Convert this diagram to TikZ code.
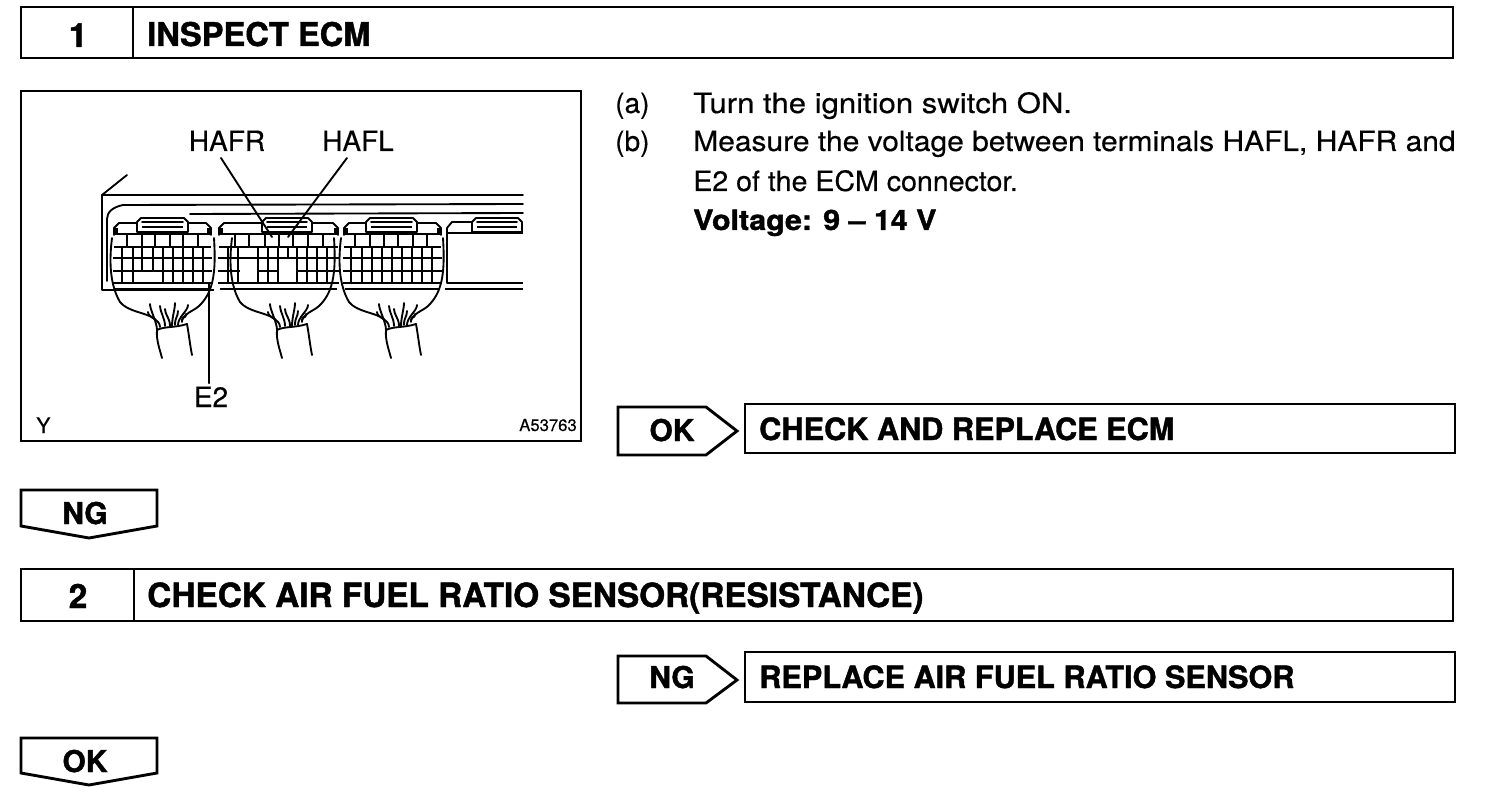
\documentclass[tikz,border=0pt]{standalone}
\usepackage{fontspec}
\usepackage{graphicx}
\setmainfont[UprightFeatures={FakeBold=0.35},BoldFeatures={FakeBold=1.3}]{TeX Gyre Heros}
\newcommand{\pxfont}[1]{\fontsize{#1}{#1}\selectfont}
\newcommand{\sx}[2]{\scalebox{#1}[1]{#2}}
\tikzset{
  frameline/.style={draw=black,line width=2.15pt,line join=miter},
  head/.style={font=\bfseries\pxfont{24.5},anchor=base west,inner sep=0pt},
  sub/.style={font=\bfseries\pxfont{25},anchor=base west,inner sep=0pt},
  res/.style={font=\bfseries\pxfont{23},anchor=base west,inner sep=0pt},
  num/.style={font=\bfseries\pxfont{25},anchor=base,inner sep=0pt},
  tag/.style={font=\bfseries\pxfont{22.5},anchor=base,inner sep=0pt},
  body/.style={font=\pxfont{21},anchor=base west,inner sep=0pt},
  bodyb/.style={font=\bfseries\pxfont{21},anchor=base west,inner sep=0pt},
  lab/.style={font=\pxfont{21},anchor=base,inner sep=0pt},
  small/.style={font=\pxfont{12.5},anchor=base east,inner sep=0pt},
  fine/.style={line width=1pt,line cap=round,line join=round},
  mid/.style={line width=1.4pt,line cap=round,line join=round},
  heavy/.style={line width=2.1pt,line cap=butt},
}
\begin{document}
\begin{tikzpicture}[x=0.75pt,y=-0.75pt]
\useasboundingbox (0,0) rectangle (1504,806);
% headers
\draw[frameline] (21,7) rectangle (1453,58);
\draw[frameline] (133,7) -- (133,58);
\node[num] (n1) at (78,47) {1};
\node[head] (t1) at (147,46) {INSPECT ECM};
\draw[frameline] (21,569) rectangle (1453,621);
\draw[frameline] (134,569) -- (134,621);
\node[num] (n2) at (78,608) {2};
\node[sub] (t2) at (147,607) {CHECK AIR FUEL RATIO SENSOR(RESISTANCE)};
% picture frame
\draw[frameline] (21,91) rectangle (581,441);
% body text
\node[body] (a) at (615,113) {(a)};
\node[body] (a1) at (693,113) {\sx{1.11}{Turn the ignition switch ON.}};
\node[body] (b) at (615,151) {(b)};
\node[body] (b1) at (693,151) {\sx{1.07}{Measure the voltage between terminals HAFL, HAFR and}};
\node[body] (b2) at (693,191) {\sx{1.02}{E2 of the ECM connector.}};
\node[bodyb] (b3) at (693,230) {\sx{1.085}{Voltage: 9 -- 14 V}};
% result tags
\draw[frameline] (618,407) -- (706,407) -- (737,431) -- (706,455) -- (618,455) -- cycle;
\node[tag] (ok1) at (672,441) {OK};
\draw[frameline] (745,404) rectangle (1455,453);
\node[res] (r1) at (759,440) {CHECK AND REPLACE ECM};
\draw[frameline] (618,656) -- (706,656) -- (737,680) -- (706,703) -- (618,703) -- cycle;
\node[tag] (ng2) at (672,688) {NG};
\draw[frameline] (745,652) rectangle (1455,702);
\node[res] (r2) at (759,688) {REPLACE AIR FUEL RATIO SENSOR};
\draw[frameline] (21,490) -- (157,490) -- (157,526) -- (89,538) -- (21,526) -- cycle;
\node[tag] (ng1) at (85,524) {NG};
\draw[frameline] (21,738) -- (157,738) -- (157,773) -- (89,785) -- (21,773) -- cycle;
\node[tag] (ok2) at (85,772) {OK};
% ECM housing
\draw[mid] (127,175) -- (102,195) -- (102,290);
\draw[mid] (102,195) -- (523,195);
\draw[mid] (523,204) -- (123,205) .. controls (113,207) and (107,212) .. (107,219) -- (107,281);
\draw[mid] (190,214) -- (523,213);
\draw[heavy] (102,290) -- (214,290);
% connector bodies
\foreach \xa/\xb in {112/213, 217/340, 342/443}{
  \draw[mid] (\xa+2,235) -- (\xa+2,228) -- (\xa+7,223) -- (\xb-7,223) -- (\xb-2,228) -- (\xb-2,235);
  \fill (\xa+1,228) rectangle (\xa+6,235);
  \fill (\xb-6,228) rectangle (\xb-1,235);
  \draw[heavy] (\xa+2,234) -- (\xb-2,234);
  \draw[heavy] (\xa+2,247) -- (\xb-2,247);
  \draw[heavy] (\xa+1,258) -- (\xb-1,258);
  \draw[heavy] (\xa+1,271) -- (\xb-1,271);
  \draw[heavy] (\xa+1,283) -- (\xb-1,283);
  \draw[heavy] (\xa+3,289) -- (\xb-3,289);
}
% latches
\foreach \xa/\xb in {137/188, 262/312, 366/417, 472/522}{
  \draw[mid,fill=white] (\xa,232) -- (\xa,222) -- (\xa+4,218) -- (\xb-4,218) -- (\xb,222) -- (\xb,232) -- cycle;
  \draw[heavy] (\xa+5,227) -- (\xb-5,227);
  \draw[mid] (\xa+5,222) -- (\xb-5,222);
}
% cell dividers, top row
\foreach \x in {127,142,155,170,183,198, 235,249,265,279,293,308,323, 355,370,384,398,413,427}{
  \draw[mid] (\x,234) -- (\x,247);
}
% cell dividers, lower rows
\foreach \x in {122,133,142,153,163,173,183,193,203}{
  \draw[fine] (\x,247) -- (\x,271);
}
\foreach \x in {122,133,163,173,183,193,203}{
  \draw[fine] (\x,271) -- (\x,283);
}
\foreach \x/\w in {228/2.1,238/2.1,258/1,268/2.1,278/1,288/1,297/2.1,307/1,317/2.1,327/1}{
  \draw[line width=\w pt] (\x,247) -- (\x,283);
}
\foreach \x/\w in {351/2.1,362/1,372/2.1,382/2.1,392/2.1,402/1,412/2.1,422/2.1,432/1}{
  \draw[line width=\w pt] (\x,247) -- (\x,283);
}
% blank merged cells
\fill[white] (239.5,259.5) rectangle (257,282);
\fill[white] (279,259.5) rectangle (295.5,282);
\fill[white] (134,272.5) rectangle (162,282);
% connector 4, partial
\draw[mid] (447,283) -- (447,228) -- (452,222) -- (472,222);
\draw[heavy] (447,233) -- (523,233);
\draw[heavy] (447,283) -- (523,283);
\draw[heavy] (445,289) -- (523,289);
% hoods and bundles
\foreach \dx in {0,120,229}{
\begin{scope}[xshift=\dx*0.75pt]
  \draw[mid] (112,238) .. controls (109,262) and (110,285) .. (120,302)
     .. controls (128,312) and (145,312) .. (155,319);
  \draw[mid] (214,238) .. controls (216,270) and (214,290) .. (201,304)
     .. controls (195,311) and (187,311) .. (182,320);
  \draw[mid] (157,330) .. controls (165,326) and (175,328) .. (187,324);
  \draw[mid] (157,330) .. controls (156,340) and (160,350) .. (162,358);
  \draw[mid] (187,324) .. controls (189,335) and (190,345) .. (192,355);
  \foreach \xa/\ya/\xb/\yb in {157/330/150/304,160/327/148/312,165/326/160/306,170/326/165/309,172/326/175/303,175/325/178/311,178/325/188/305,182/322/186/314}{
    \draw[mid] (\xa,\ya) .. controls (\xa,\ya-8) and (\xb,\yb+6) .. (\xb,\yb);
  }
\end{scope}}
% labels and leaders
\node[lab] (hafr) at (227,151) {HAFR};
\node[lab] (hafl) at (358,151) {HAFL};
\node[lab] (e2) at (211,407) {E2};
\node[font=\pxfont{16},anchor=base west,inner sep=0pt] (y) at (36,433) {Y};
\node[small] (code) at (577,431) {A53763};
\coordinate (pr) at (272,237);
\coordinate (pl) at (288,237);
\coordinate (pe) at (209,283);
\coordinate (hr) at (221,158);
\coordinate (hl) at (347,158);
\coordinate (he) at (209,383);
\draw[mid] (hr) -- (pr);
\draw[mid] (hl) -- (pl);
\draw[mid,line width=1.7pt] (he) -- (pe);
\end{tikzpicture}
\end{document}
